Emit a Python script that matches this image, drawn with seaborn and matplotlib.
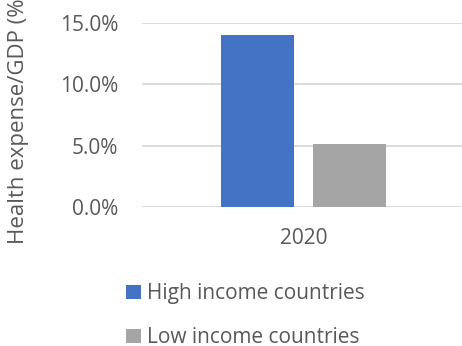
import matplotlib
matplotlib.use("Agg")
import matplotlib.pyplot as plt
import seaborn as sns
import pandas as pd
from matplotlib.patches import Patch
from matplotlib.ticker import FuncFormatter

years = ["2020"]
series = ["High income countries", "Low income countries"]
high_income = [14.0]
low_income = [5.15]
colors = ["#4472C4", "#A5A5A5"]
y_ticks = [0, 5, 10, 15]

df = pd.DataFrame({
    "year": years * 2,
    "group": [series[0]] * len(years) + [series[1]] * len(years),
    "value": high_income + low_income,
})

sns.set_theme(style="white")
plt.rcParams["font.family"] = ["Open Sans", "DejaVu Sans"]
txt = "#595959"

fig = plt.figure(figsize=(4.62, 3.46), dpi=100)
ax = fig.add_axes([142 / 462, 1 - 207 / 346, 323 / 462, 184 / 346])

sns.barplot(data=df, x="year", y="value", hue="group", palette=colors,
            width=0.57, gap=0.207, ax=ax, legend=False, saturation=1,
            linewidth=0, edgecolor="none")

ax.set_ylim(0, 15)
ax.set_xlim(-0.5, 0.5)
ax.set_yticks(y_ticks)
ax.yaxis.set_major_formatter(FuncFormatter(lambda v, p: f"{v:.1f}%"))
ax.grid(axis="y", color="#D9D9D9", linewidth=1.3)
ax.set_axisbelow(True)
for s in ax.spines.values():
    s.set_visible(False)
ax.tick_params(axis="y", length=0, pad=17, labelsize=15, labelcolor=txt)
ax.tick_params(axis="x", length=0, pad=15, labelsize=15, labelcolor=txt)
ax.set_xlabel("")
ax.set_ylabel("Health expense/GDP (%)", fontsize=16, color=txt)
ax.yaxis.label.set_va("center")
ax.yaxis.set_label_coords((19 - 142) / 323, (207 - 118) / 184)

handles = [Patch(facecolor=c, edgecolor="none") for c in colors]
fig.legend(handles, series, loc="upper left", bbox_to_anchor=(118 / 462, 1 - 275 / 346),
           frameon=False, fontsize=15, labelcolor=txt, handlelength=0.7,
           handleheight=0.7, handletextpad=0.3, labelspacing=1.1, borderaxespad=0)

fig.savefig("out.png", dpi=100)
